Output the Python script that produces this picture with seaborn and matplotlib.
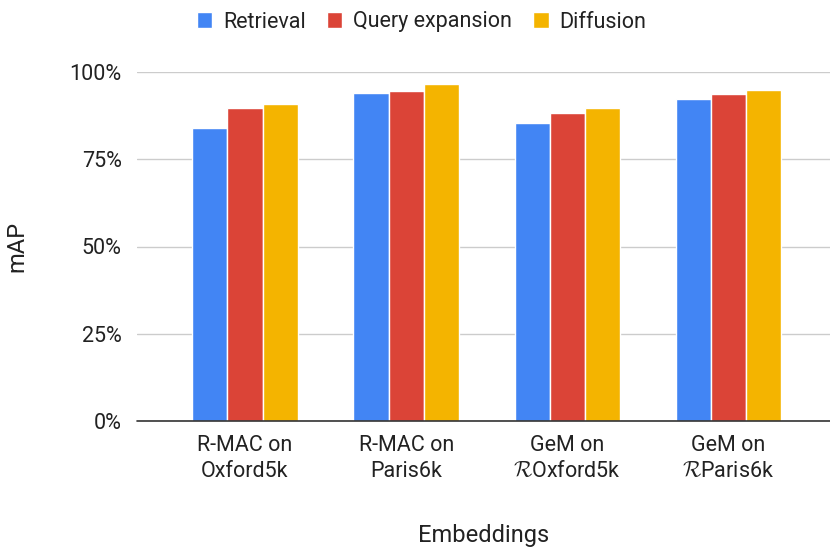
import matplotlib
matplotlib.use("Agg")
import matplotlib.pyplot as plt
import seaborn as sns
import pandas as pd
from matplotlib.ticker import PercentFormatter

categories = [
    "R-MAC on\nOxford5k",
    "R-MAC on\nParis6k",
    "GeM on\n$\\mathcal{R}$Oxford5k",
    "GeM on\n$\\mathcal{R}$Paris6k",
]
methods = ["Retrieval", "Query expansion", "Diffusion"]
retrieval = [0.841, 0.940, 0.855, 0.922]
query_expansion = [0.897, 0.947, 0.884, 0.938]
diffusion = [0.908, 0.967, 0.897, 0.950]
colors = ["#4285F4", "#DB4437", "#F4B400"]
y_ticks = [0, 0.25, 0.5, 0.75, 1.0]

rows = []
for name, vals in zip(methods, [retrieval, query_expansion, diffusion]):
    for cat, v in zip(categories, vals):
        rows.append({"Embeddings": cat, "Method": name, "mAP": v})
df = pd.DataFrame(rows)

sns.set_theme(style="white")
plt.rcParams["font.family"] = ["Roboto", "DejaVu Sans"]
plt.rcParams["mathtext.fontset"] = "cm"

fig = plt.figure(figsize=(8.3, 5.5), dpi=100)
ax = fig.add_axes([137 / 830, 1 - 420.7 / 550, 1 - 137 / 830, (420.7 - 72.3) / 550])

sns.barplot(data=df, x="Embeddings", y="mAP", hue="Method", order=categories,
            hue_order=methods, palette=colors, width=0.655, ax=ax,
            edgecolor="white", linewidth=1.0, saturation=1, legend=True)

ax.set_xlim(-0.67, 3.63)
ax.set_ylim(0, 1.0)
ax.set_yticks(y_ticks)
ax.yaxis.set_major_formatter(PercentFormatter(1.0, decimals=0))
ax.grid(axis="y", color="#cccccc", linewidth=1)
ax.set_axisbelow(True)
for s in ax.spines.values():
    s.set_visible(False)
ax.axhline(0, color="#333333", linewidth=1.2, zorder=5, clip_on=False)
ax.tick_params(axis="y", length=0, pad=11, labelsize=15.5, labelcolor="#222222")
ax.tick_params(axis="x", length=0, pad=10, labelsize=15.5, labelcolor="#222222")
for lbl in ax.get_xticklabels():
    lbl.set_linespacing(1.35)

ax.set_ylabel("mAP", fontsize=17, color="#222222", labelpad=30)
ax.set_xlabel("Embeddings", fontsize=17, color="#222222", labelpad=30)

handles, labels = ax.get_legend_handles_labels()
ax.get_legend().remove()
fig.legend(handles, labels, loc="center", bbox_to_anchor=(0.508, 0.96), ncol=3,
           frameon=False, fontsize=15.5, handlelength=0.7, handleheight=0.7,
           handletextpad=0.5, columnspacing=1.0, labelcolor="#222222")

fig.savefig("out.png", dpi=100)
